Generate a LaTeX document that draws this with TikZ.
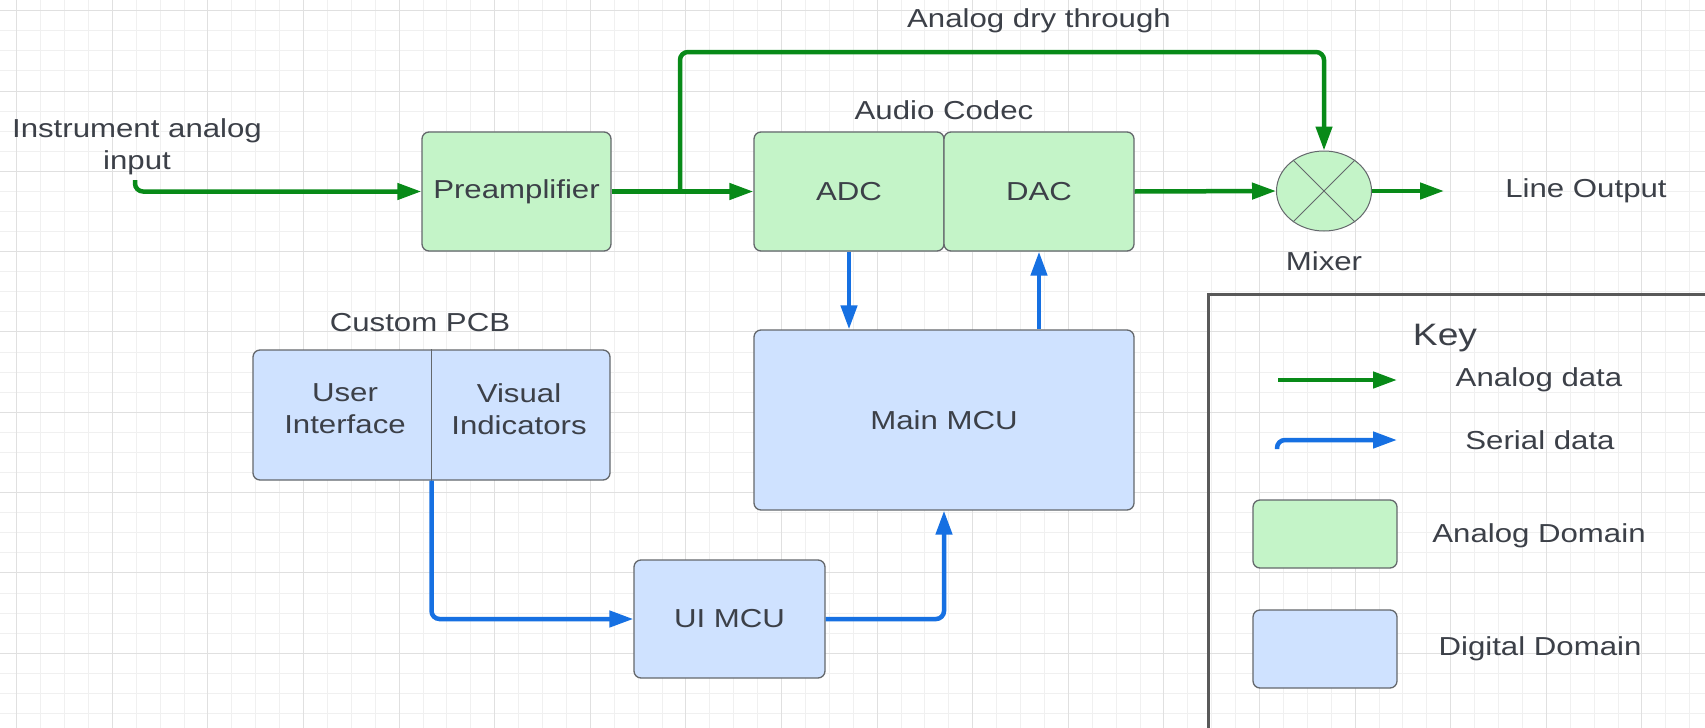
\documentclass[tikz,border=0pt]{standalone}
\usepackage{fontspec}
\setmainfont{Liberation Sans}[FakeStretch=1.2]
\usetikzlibrary{arrows.meta,shapes.geometric}

\definecolor{analogfill}{RGB}{196,244,200}
\definecolor{digitalfill}{RGB}{207,226,255}
\definecolor{analogline}{RGB}{8,138,24}
\definecolor{serialline}{RGB}{22,112,226}
\definecolor{labeltext}{RGB}{60,64,72}
\definecolor{boxedge}{RGB}{100,104,108}

\begin{document}
\begin{tikzpicture}[x=1pt, y=-1pt,
    every node/.style={text=labeltext, font=\fontsize{26}{32}\selectfont, align=center},
    block/.style={draw=boxedge, line width=1.3pt, rounded corners=7pt, inner sep=0pt},
    analog/.style={block, fill=analogfill},
    digital/.style={block, fill=digitalfill},
    analogflow/.style={draw=analogline, line width=4.5pt, rounded corners=8pt, -{Triangle[length=24pt,width=16pt]}},
    serialflow/.style={draw=serialline, line width=4.5pt, rounded corners=8pt, -{Triangle[length=24pt,width=16pt]}},
    minorgrid/.style={draw=black!6, line width=1pt},
    majorgrid/.style={draw=black!12, line width=1pt}]

    % Background grid
    \fill[white] (0,0) rectangle (1705,728);
    \useasboundingbox (0,0) rectangle (1705,728);
    \foreach \i in {0,...,70} \draw[minorgrid] ({16.7+23.9*\i},0) -- ++(0,728);
    \foreach \j in {0,...,35} \draw[minorgrid] (0,{10.7+20.08*\j}) -- ++(1705,0);
    \foreach \i in {0,4,...,68} \draw[majorgrid] ({16.7+23.9*\i},0) -- ++(0,728);
    \foreach \j in {0,4,...,32} \draw[majorgrid] (0,{10.7+20.08*\j}) -- ++(1705,0);

    % Draw blocks
    \node[analog, minimum width=189pt, minimum height=119pt] (pre) at (516.5,191.5) {Preamplifier};
    \node[analog, minimum width=190pt, minimum height=119pt] (adc) at (849,191.5) {ADC};
    \node[analog, minimum width=190pt, minimum height=119pt] (dac) at (1039,191.5) {DAC};
    \node[digital, minimum width=380pt, minimum height=180pt] (mcu) at (944,420) {Main MCU};
    \node[digital, minimum width=357pt, minimum height=130pt] (pcb) at (431.5,415) {};
    \draw[draw=boxedge, line width=1.3pt] (pcb.north) -- (pcb.south);
    \node (ui) at (345,409) {User\\Interface};
    \node (vis) at (519,409) {Visual\\Indicators};
    \node[digital, minimum width=191pt, minimum height=118pt] (uimcu) at (729.5,619) {UI MCU};
    \node[draw=boxedge, fill=analogfill, ellipse, line width=1pt,
          minimum width=95pt, minimum height=80pt, inner sep=0pt] (mixer) at (1324,191) {};
    \draw[draw=boxedge, line width=1pt] (mixer.135) -- (mixer.-45);
    \draw[draw=boxedge, line width=1pt] (mixer.45) -- (mixer.-135);

    % Labels
    \node (intext) at (137,147) {Instrument analog\\input};
    \node (drytext) at (1039,21) {Analog dry through};
    \node (codectext) at (944,110) {Audio Codec};
    \node (pcbtext) at (420,323) {Custom PCB};
    \node (mixertext) at (1324,261) {Mixer};
    \node (outtext) at (1586,191) {Line Output};

    % Analog path
    \coordinate (instart) at (135,180);
    \coordinate (split) at (680,191.5);
    \coordinate (drytop) at (680,52);
    \coordinate (outend) at (1444,191);
    \draw[analogflow] (instart) |- (pre.west);
    \draw[analogflow] (pre.east) -- (adc.west);
    \draw[analogflow] (split) -- (drytop) -| (mixer.north);
    \draw[analogflow] (dac.east) -- (mixer.west);
    \draw[analogflow] (mixer.east) -- (outend);

    % Serial path
    \draw[serialflow] (adc.south) -- (adc.south |- mcu.north);
    \draw[serialflow] (dac.south |- mcu.north) -- (dac.south);
    \draw[serialflow] (pcb.south) |- (uimcu.west);
    \draw[serialflow] (uimcu.east) -| (mcu.south);

    % Key
    \node[draw=black!65, line width=3pt, minimum width=520pt, minimum height=460pt,
          anchor=north west] (keybox) at (1207,293) {};
    \node[font=\fontsize{31}{36}\selectfont] (keytext) at (1445,338) {Key};
    \coordinate (kga) at (1278,380);
    \coordinate (kgb) at (1397,380);
    \coordinate (ksa) at (1277,449);
    \coordinate (ksb) at (1397,440);
    \draw[analogflow] (kga) -- (kgb);
    \draw[serialflow] (ksa) |- (ksb);
    \node (kanalog) at (1539,380) {Analog data};
    \node (kserial) at (1540,440) {Serial data};
    \node[analog, minimum width=144pt, minimum height=68pt] (kabox) at (1325,534) {};
    \node[digital, minimum width=144pt, minimum height=78pt] (kdbox) at (1325,649) {};
    \node (kadomain) at (1539,536) {Analog Domain};
    \node (kddomain) at (1540,649) {Digital Domain};
\end{tikzpicture}
\end{document}
